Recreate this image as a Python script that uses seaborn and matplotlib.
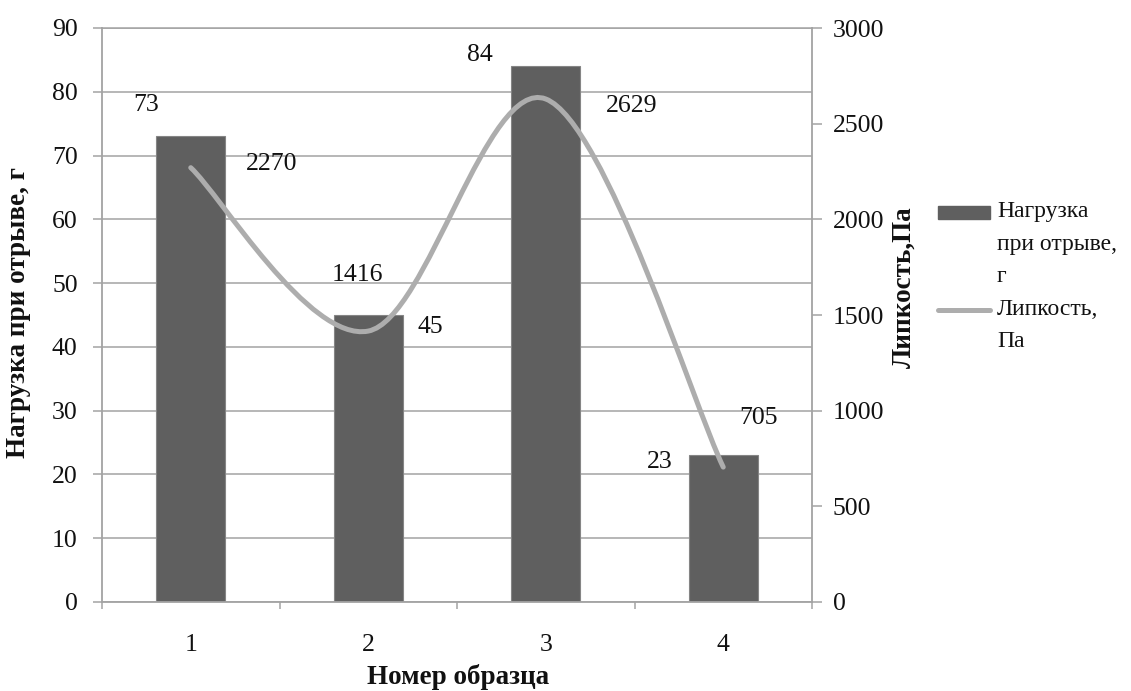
import numpy as np
import matplotlib
matplotlib.use("Agg")
import matplotlib.pyplot as plt
import seaborn as sns
from matplotlib.path import Path
from matplotlib.patches import PathPatch, Patch
from matplotlib.lines import Line2D
from matplotlib.transforms import Affine2D
from matplotlib.legend_handler import HandlerPatch, HandlerLine2D
from matplotlib.ticker import FixedLocator

# Data
samples = ["1", "2", "3", "4"]
load_g = [73, 45, 84, 23]            # Нагрузка при отрыве, г
tack_pa = [2270, 1416, 2629, 705]    # Липкость, Па

x_title = "Номер образца"
y_left_title = "Нагрузка при отрыве, г"
y_right_title = "Липкость,Па"
legend_labels = ["Нагрузка\nпри отрыве,\nг", "Липкость,\nПа"]

left_ticks = list(range(0, 91, 10))
right_ticks = list(range(0, 3001, 500))

# Style
sns.set_theme(style="white")
plt.rcParams["font.family"] = ["Liberation Serif", "DejaVu Serif"]
plt.rcParams["axes.unicode_minus"] = False

BAR = "#5f5f5f"
LINE = "#adadad"
GRID = "#a3a3a3"
TXT = "#111111"
FS_TICK = 18.5
FS_TITLE = 19.5

fig = plt.figure(figsize=(11.31, 6.91), dpi=100)
ax = fig.add_axes([102 / 1131, 1 - 602 / 691, 710 / 1131, 574 / 691])
ax2 = ax.twinx()

# Bars for the load series
sns.barplot(x=samples, y=load_g, order=samples, color=BAR, saturation=1,
            width=0.39, edgecolor="#858585", linewidth=0.8, ax=ax, zorder=2)

ax.set_xlim(-0.5, len(samples) - 0.5)
ax.set_ylim(0, 90)
ax2.set_ylim(0, 3000)
ax.yaxis.set_major_locator(FixedLocator(left_ticks))
ax2.yaxis.set_major_locator(FixedLocator(right_ticks))
ax.set_yticklabels([str(t) for t in left_ticks])
ax2.set_yticklabels([str(t) for t in right_ticks])

# Grid from the left axis
ax.grid(axis="y", color=GRID, linewidth=1.1, zorder=0)
ax.set_axisbelow(True)

for a in (ax, ax2):
    for s in a.spines.values():
        s.set_color(GRID)
        s.set_linewidth(1.3)
ax2.spines["left"].set_visible(False)
ax2.spines["bottom"].set_visible(False)
ax2.spines["top"].set_visible(False)
ax.spines["right"].set_visible(False)
ax.spines["top"].set_color(GRID)
ax.spines["top"].set_linewidth(1.1)

ax.tick_params(axis="y", direction="out", length=6.5, width=1.1, color=GRID,
               pad=11, labelsize=FS_TICK, labelcolor=TXT, left=True)
ax2.tick_params(axis="y", direction="out", length=7, width=1.1, color=GRID,
                pad=8, labelsize=FS_TICK, labelcolor=TXT, right=True)
ax.set_xticks(range(len(samples)))
ax.set_xticklabels(samples)
ax.xaxis.set_minor_locator(FixedLocator(np.arange(-0.5, len(samples), 1.0)))
ax.tick_params(axis="x", which="major", length=0, pad=23, labelsize=FS_TICK,
               labelcolor=TXT)
ax.tick_params(axis="x", which="minor", direction="out", length=5, width=1.1,
               color=GRID, bottom=True)


# Smoothed line for the tack series (cubic Bezier through the points)
def smooth_path(xs, ys):
    pts = np.column_stack([xs, ys]).astype(float)
    n = len(pts)
    verts = [pts[0]]
    codes = [Path.MOVETO]
    for i in range(n - 1):
        p0 = pts[i - 1] if i > 0 else pts[i]
        p1 = pts[i]
        p2 = pts[i + 1]
        p3 = pts[i + 2] if i + 2 < n else pts[i + 1]
        verts += [p1 + (p2 - p0) / 6, p2 - (p3 - p1) / 6, p2]
        codes += [Path.CURVE4] * 3
    return Path(verts, codes)


xpos = np.arange(len(samples))
ax2.add_patch(PathPatch(smooth_path(xpos, tack_pa), facecolor="none",
                        edgecolor=LINE, linewidth=3.6, capstyle="round",
                        joinstyle="round", zorder=3))

# Value labels
bar_offsets = [(-45, 31), (62, -12), (-66, 11), (-64, -7)]
line_offsets = [(81, 4), (-11, 56), (86, -7), (35, 49)]
for i, v in enumerate(load_g):
    ax.annotate(str(v), xy=(i, v), xytext=bar_offsets[i],
                textcoords="offset pixels", ha="center", va="center",
                fontsize=FS_TICK, color=TXT)
for i, v in enumerate(tack_pa):
    ax2.annotate(str(v), xy=(i, v), xytext=line_offsets[i],
                 textcoords="offset pixels", ha="center", va="center",
                 fontsize=FS_TICK, color=TXT, zorder=5)

# Axis titles
ax.set_xlabel(x_title, fontsize=FS_TITLE, fontweight="bold", color=TXT, va="center")
ax.xaxis.set_label_coords(0.501, -0.1307)
ax.set_ylabel(y_left_title, fontsize=FS_TITLE, fontweight="bold", color=TXT, va="center")
ax.yaxis.set_label_coords(-0.118, 0.505)
ax2.set_ylabel(y_right_title, fontsize=FS_TITLE, fontweight="bold", color=TXT, va="center")
ax2.yaxis.set_label_coords(1.1296, 0.549)


# Legend handles aligned with the first line of each wrapped label
class LiftedPatch(HandlerPatch):
    def __init__(self, lift, **kw):
        super().__init__(**kw)
        self.lift = lift

    def create_artists(self, legend, orig_handle, xdescent, ydescent, width,
                       height, fontsize, trans):
        return super().create_artists(legend, orig_handle, xdescent, ydescent,
                                      width, height, fontsize,
                                      Affine2D().translate(0, self.lift) + trans)


class LiftedLine(HandlerLine2D):
    def __init__(self, lift, **kw):
        super().__init__(**kw)
        self.lift = lift

    def create_artists(self, legend, orig_handle, xdescent, ydescent, width,
                       height, fontsize, trans):
        return super().create_artists(legend, orig_handle, xdescent, ydescent,
                                      width, height, fontsize,
                                      Affine2D().translate(0, self.lift) + trans)


LEG_FS = 17
LINESP = 1.72
step = 22.7  # baseline-to-baseline distance of legend text, points
h_bar = Patch(facecolor=BAR, edgecolor=BAR)
h_line = Line2D([], [], color=LINE, linewidth=3.6)
leg = fig.legend([h_bar, h_line], legend_labels,
                 handler_map={h_bar: LiftedPatch(1.0 * step),
                              h_line: LiftedLine(0.5 * step)},
                 loc="upper left", bbox_to_anchor=(938 / 1131, 1 - 201 / 691),
                 frameon=False, fontsize=LEG_FS, handlelength=2.2,
                 handleheight=0.47, handletextpad=0.3, labelspacing=0.5,
                 borderpad=0, borderaxespad=0)
for t in leg.get_texts():
    t.set_linespacing(LINESP)
    t.set_color(TXT)

fig.savefig("out.png", dpi=100, facecolor="white")
